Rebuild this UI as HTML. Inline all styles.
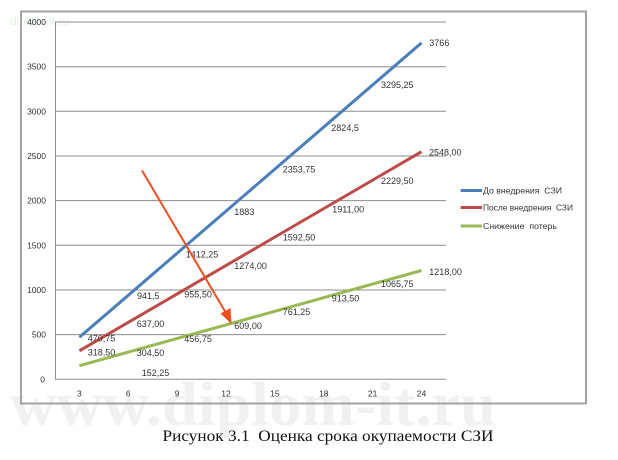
<!DOCTYPE html>
<html><head><meta charset="utf-8"><style>
html,body{margin:0;padding:0;background:#fff;}
svg{display:block;}
text{white-space:pre;}
</style></head><body>
<svg width="618" height="460" viewBox="0 0 618 460" xmlns="http://www.w3.org/2000/svg" xml:space="preserve">
<rect x="0" y="0" width="618" height="460" fill="#fff"/>
<text x="10" y="425" font-family="Liberation Serif, serif" font-weight="bold" font-size="62" fill="#f1f1f1" textLength="486" lengthAdjust="spacingAndGlyphs">www.diplom-it.ru</text>
<text x="10" y="25" font-family="Liberation Sans, sans-serif" font-size="12" fill="#e6f2e6">diplom-it.ru</text>
<rect x="21" y="11.5" width="565" height="392" fill="none" stroke="#a3a3a3" stroke-width="2"/>
<g stroke="#8c8c8c" stroke-width="1">
<line x1="55" y1="22" x2="446" y2="22"/>
<line x1="55" y1="66.7" x2="446" y2="66.7"/>
<line x1="55" y1="111.3" x2="446" y2="111.3"/>
<line x1="55" y1="156" x2="446" y2="156"/>
<line x1="55" y1="200.6" x2="446" y2="200.6"/>
<line x1="55" y1="245.3" x2="446" y2="245.3"/>
<line x1="55" y1="290" x2="446" y2="290"/>
<line x1="55" y1="334.6" x2="446" y2="334.6"/>
<line x1="55" y1="379.3" x2="446" y2="379.3"/>
<line x1="55.5" y1="22" x2="55.5" y2="379.3"/>
</g>
<g font-family="Liberation Sans, sans-serif" font-size="8.5" fill="#333" text-anchor="end">
<text x="46" y="25">4000</text>
<text x="46" y="69.7">3500</text>
<text x="46" y="114.3">3000</text>
<text x="46" y="159">2500</text>
<text x="46" y="203.6">2000</text>
<text x="46" y="248.3">1500</text>
<text x="46" y="293">1000</text>
<text x="46" y="337.6">500</text>
<text x="45" y="382.3">0</text>
</g>
<g font-family="Liberation Sans, sans-serif" font-size="8.5" fill="#333" text-anchor="middle">
<text x="79.4" y="396.3">3</text>
<text x="128.3" y="396.3">6</text>
<text x="177.1" y="396.3">9</text>
<text x="226" y="396.3">12</text>
<text x="274.9" y="396.3">15</text>
<text x="323.8" y="396.3">18</text>
<text x="372.6" y="396.3">21</text>
<text x="421.5" y="396.3">24</text>
</g>
<line x1="79.4" y1="337.3" x2="421.5" y2="42.9" stroke="#4a7ebb" stroke-width="3"/>
<line x1="79.4" y1="350.8" x2="421.5" y2="151.7" stroke="#be4b48" stroke-width="3"/>
<line x1="79.4" y1="365.7" x2="421.5" y2="270.5" stroke="#98b954" stroke-width="3"/>
<g font-family="Liberation Sans, sans-serif" font-size="9" fill="#333">
<text x="87.7" y="341.5">470,75</text>
<text x="137" y="299.2">941,5</text>
<text x="185.7" y="257.5">1412,25</text>
<text x="234.3" y="214.9">1883</text>
<text x="282.7" y="172.5">2353,75</text>
<text x="331.3" y="130.9">2824,5</text>
<text x="381" y="88.2">3295,25</text>
<text x="429.3" y="45.9">3766</text>
<text x="87.7" y="355.5">318,50</text>
<text x="136.7" y="326.9">637,00</text>
<text x="184.3" y="297.5">955,50</text>
<text x="234.3" y="269.2">1274,00</text>
<text x="282.7" y="240.5">1592,50</text>
<text x="332.3" y="212.5">1911,00</text>
<text x="381" y="183.9">2229,50</text>
<text x="429" y="155.5">2548,00</text>
<text x="141.7" y="375.9">152,25</text>
<text x="136.7" y="355.9">304,50</text>
<text x="184.3" y="341.9">456,75</text>
<text x="234.3" y="329.2">609,00</text>
<text x="282.7" y="315.2">761,25</text>
<text x="331.7" y="301.5">913,50</text>
<text x="381" y="287.2">1065,75</text>
<text x="429.3" y="275.2">1218,00</text>
</g>
<line x1="142" y1="170.5" x2="226" y2="313" stroke="#f04f1e" stroke-width="2"/>
<polygon points="231.5,324 220.5,313.5 230.5,308" fill="#f04f1e"/>
<line x1="460.7" y1="190.5" x2="482" y2="190.5" stroke="#4a7ebb" stroke-width="3"/>
<line x1="460.7" y1="207.5" x2="482" y2="207.5" stroke="#be4b48" stroke-width="3"/>
<line x1="460.7" y1="226" x2="482" y2="226" stroke="#98b954" stroke-width="3"/>
<g font-family="Liberation Sans, sans-serif" font-size="8.5" fill="#333">
<text x="483" y="193.6" textLength="79" lengthAdjust="spacingAndGlyphs">До внедрения  СЗИ</text>
<text x="483" y="210.5" textLength="90" lengthAdjust="spacingAndGlyphs">После внедрения  СЗИ</text>
<text x="483" y="229" textLength="74" lengthAdjust="spacingAndGlyphs">Снижение  потерь</text>
</g>
<text x="162.5" y="441" font-family="Liberation Serif, serif" font-size="15.5" fill="#111" textLength="331" lengthAdjust="spacingAndGlyphs">Рисунок 3.1  Оценка срока окупаемости СЗИ</text>
</svg>
</body></html>
